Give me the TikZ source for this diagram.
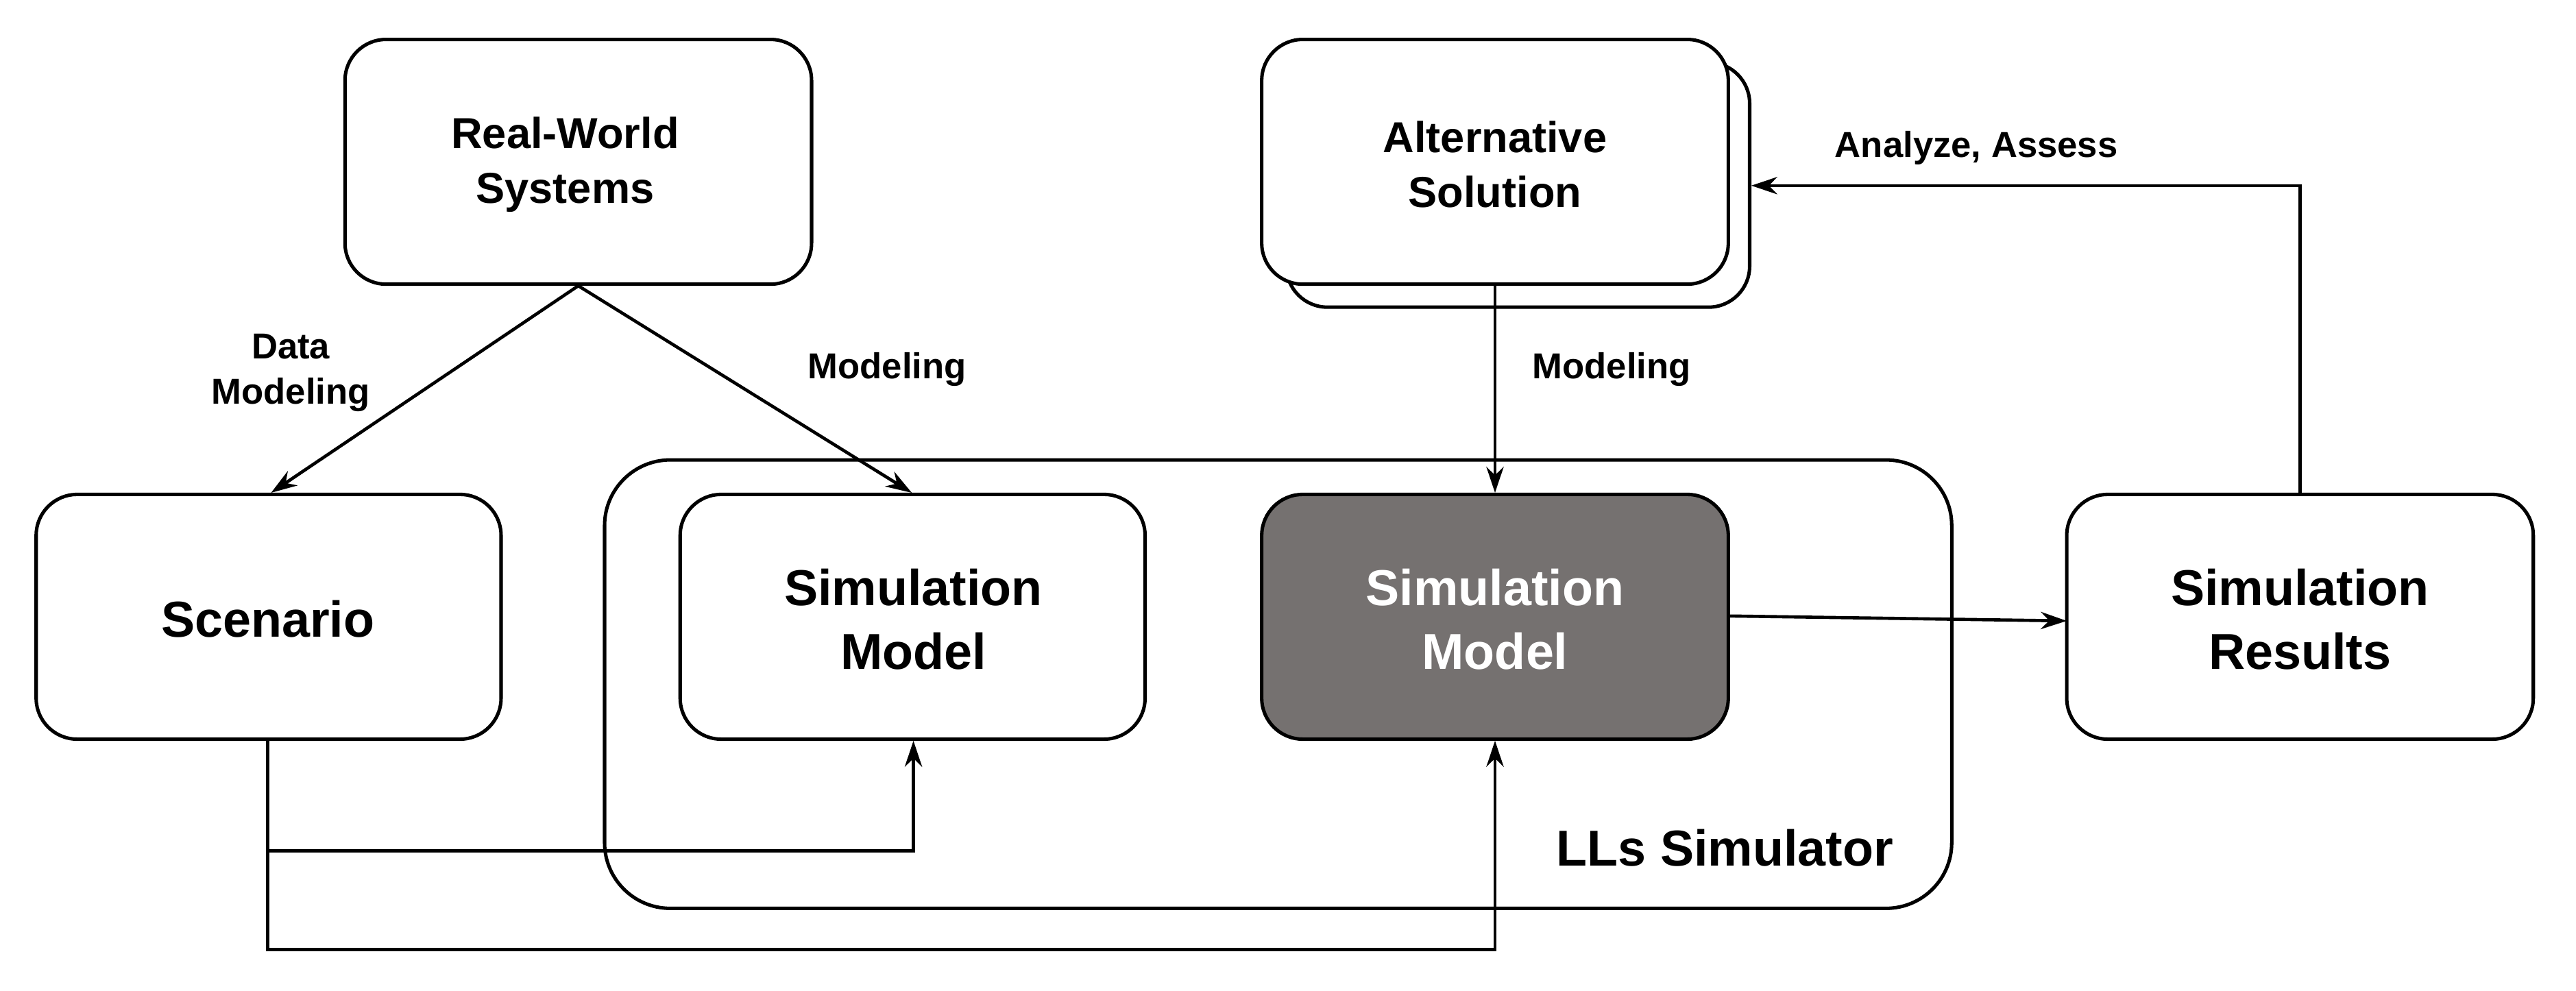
\documentclass[tikz,border=0pt]{standalone}
\usepackage{fontspec}
\setmainfont{Liberation Sans}
\usetikzlibrary{arrows.meta}
\begin{document}
\begin{tikzpicture}[x=0.02cm,y=-0.02cm,
  box/.style={draw,line width=1.2pt,rounded corners=0.5cm,fill=white},
  big/.style={font=\fontsize{17.5}{22}\selectfont\bfseries,align=center},
  mid/.style={font=\fontsize{15}{19}\selectfont\bfseries,align=center},
  lab/.style={font=\fontsize{12.5}{15.5}\selectfont\bfseries,align=center},
  arr/.style={line width=1.1pt,-{Stealth[length=9pt,width=6pt]}}]
\useasboundingbox (0,0) rectangle (1568,603);
% container
\draw[box,rounded corners=0.8cm] (368,280) rectangle (1188,553);
\node[big] (lls) at (1050,516) {LLs Simulator};
% boxes
\draw[box] (210,24) rectangle (494,173);
\node[mid] (rw) at (344,100) {Real-World\\Systems};
\draw[box] (783,38) rectangle (1065,187);
\draw[box] (768,24) rectangle (1052,173);
\node[mid] (alt) at (910,100) {Alternative\\Solution};
\draw[box] (22,301) rectangle (305,450);
\node[big] (sc) at (163,377) {Scenario};
\draw[box] (414,301) rectangle (697,450);
\node[big] (sm1) at (556,377) {Simulation\\Model};
\draw[box,fill={rgb,255:red,117;green,113;blue,112}] (768,301) rectangle (1052,450);
\node[big,text=white] (sm2) at (910,377) {Simulation\\Model};
\draw[box] (1258,301) rectangle (1542,450);
\node[big] (res) at (1400,377) {Simulation\\Results};
% coordinates
\coordinate (rwb) at (352,174);
\coordinate (sct) at (165,300);
\coordinate (sm1t) at (555,300);
\coordinate (altb) at (910,174);
\coordinate (sm2t) at (910,300);
\coordinate (sm2r) at (1052,375);
\coordinate (resl) at (1258,378);
\coordinate (rest) at (1400,301);
\coordinate (altr) at (1066,113);
\coordinate (scb) at (163,451);
\coordinate (sm1b) at (556,451);
\coordinate (sm2b) at (910,451);
% arrows
\draw[arr] (rwb) -- (sct);
\draw[arr] (rwb) -- (sm1t);
\draw[arr] (altb) -- (sm2t);
\draw[arr] (sm2r) -- (resl);
\draw[arr] (rest) |- (altr);
\draw[arr] (scb) |- (556,518) -- (sm1b);
\draw[arr] (scb) |- (910,578) -- (sm2b);
% labels
\node[lab] (l1) at (177,227) {Data\\Modeling};
\node[lab] (l2) at (540,225) {Modeling};
\node[lab] (l3) at (981,225) {Modeling};
\node[lab] (l4) at (1203,90) {Analyze, Assess};
\end{tikzpicture}
\end{document}
